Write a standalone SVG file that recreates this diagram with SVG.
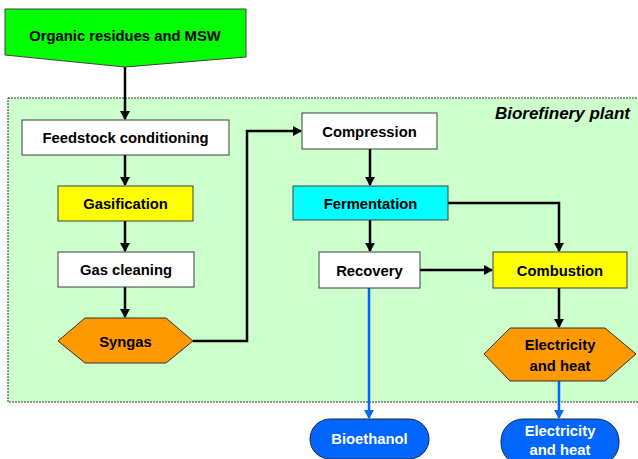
<svg xmlns="http://www.w3.org/2000/svg" width="638" height="459" viewBox="0 0 638 459">
<defs>
<marker id="ak" markerWidth="10" markerHeight="10" refX="8" refY="5" orient="auto" markerUnits="userSpaceOnUse"><path d="M0,0 L9,5 L0,10 Z" fill="#000"/></marker>
<marker id="ab" markerWidth="10" markerHeight="10" refX="8" refY="5" orient="auto" markerUnits="userSpaceOnUse"><path d="M0,0 L9,5 L0,10 Z" fill="#0066ff"/></marker>
</defs>
<style>
text{font-family:"Liberation Sans",Arial,sans-serif;font-weight:bold;font-size:14.8px;text-anchor:middle;fill:#000}
.box{stroke:#404040;stroke-width:1}
.w{fill:#fff}
.y{fill:#ffff00}
.c{fill:#00ffff}
.o{fill:#ff9900;stroke:#303030}
.b{fill:#0066ff;stroke:#1a2a44;stroke-width:1}
.wt{fill:#fff}
.k{fill:none;stroke:#000;stroke-width:2.5;marker-end:url(#ak)}
.kb{fill:none;stroke:#0066ff;stroke-width:2.5;marker-end:url(#ab)}
</style>
<g id="plant">
<rect x="8" y="98" width="640" height="304" fill="#ccffcc" stroke="#303030" stroke-width="1" stroke-dasharray="2,1"/>
<text x="630" y="119" style="font-style:italic;font-size:17px;text-anchor:end">Biorefinery plant</text>
</g>
<g id="connectors">
<path class="k" d="M125,67 V119"/>
<path class="k" d="M125,155 V185"/>
<path class="k" d="M125,221 V251"/>
<path class="k" d="M125,287 V317"/>
<path class="k" d="M193,341 H247 V131 H301"/>
<path class="k" d="M370,149 V185"/>
<path class="k" d="M370,220 V251"/>
<path class="k" d="M448,203 H559 V251"/>
<path class="k" d="M420,270 H492"/>
<path class="k" d="M559,288 V327"/>
<path class="kb" d="M369,288 V418"/>
<path class="kb" d="M559,381 V418"/>
</g>
<g id="organic">
<path d="M5,9 H246 V57 L125,67 L5,55 Z" fill="#00ff00" stroke="#404040"/>
<text x="125" y="41">Organic residues and MSW</text>
</g>
<g id="feedstock"><rect class="box w" x="22" y="120" width="207" height="35"/><text x="125.5" y="143">Feedstock conditioning</text></g>
<g id="gasification"><rect class="box y" x="58" y="186" width="135" height="35"/><text x="125.5" y="209">Gasification</text></g>
<g id="gascleaning"><rect class="box w" x="58" y="252" width="136" height="35"/><text x="126" y="275">Gas cleaning</text></g>
<g id="syngas"><path class="o" d="M58,341 L85,318 H166 L193,341 L166,363 H85 Z"/><text x="125.5" y="346.5">Syngas</text></g>
<g id="compression"><rect class="box w" x="302" y="113" width="135" height="36"/><text x="369.5" y="136.5">Compression</text></g>
<g id="fermentation"><rect class="box c" x="293" y="186" width="155" height="34"/><text x="370.5" y="208.5">Fermentation</text></g>
<g id="recovery"><rect class="box w" x="319" y="252" width="101" height="36"/><text x="369.5" y="275.5">Recovery</text></g>
<g id="combustion"><rect class="box y" x="493" y="252" width="134" height="36"/><text x="560" y="275.5">Combustion</text></g>
<g id="elecheat"><path class="o" d="M484,354 L510,328 H605 L636,354 L605,381 H510 Z"/><text x="560" y="350">Electricity</text><text x="560" y="371">and heat</text></g>
<g id="bioethanol"><rect class="b" x="310" y="419" width="119" height="40" rx="20"/><text class="wt" x="369.5" y="444">Bioethanol</text></g>
<g id="elecout"><rect class="b" x="501" y="419" width="118" height="46" rx="22"/><text class="wt" x="560" y="436">Electricity</text><text class="wt" x="560" y="455">and heat</text></g>
</svg>
